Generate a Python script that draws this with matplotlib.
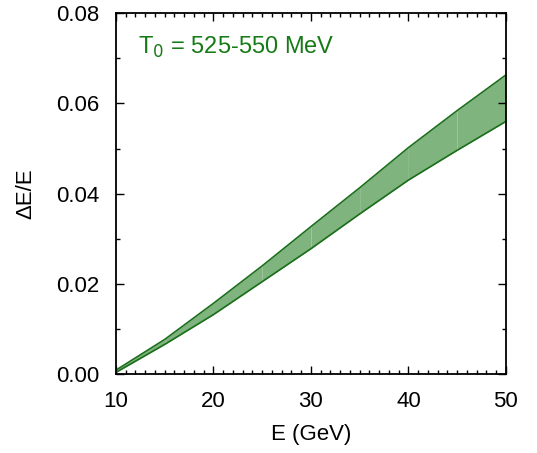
import matplotlib
matplotlib.use("Agg")
import matplotlib.pyplot as plt
from matplotlib.ticker import MultipleLocator

plt.rcParams['font.family'] = ['Liberation Sans', 'DejaVu Sans']

energy = [10, 15, 20, 25, 30, 35, 40, 45, 50]
upper = [0.0009, 0.0077, 0.0157, 0.0240, 0.0327, 0.0413, 0.0502, 0.0584, 0.0663]
lower = [0.0004, 0.0066, 0.0132, 0.0205, 0.0278, 0.0355, 0.0430, 0.0496, 0.0560]
label_text = "T$_0$ = 525-550 MeV"

fill_c = "#80b47f"
edge_c = "#1b6e1b"
text_c = "#167a16"

fig = plt.figure(figsize=(5.37, 4.53), dpi=100)
ax = fig.add_axes([0.216, 0.174, 0.726, 0.797])

for i in range(len(energy) - 1):
    ax.fill_between(energy[i:i + 2], lower[i:i + 2], upper[i:i + 2],
                    color=fill_c, linewidth=0, antialiased=True)
ax.plot(energy, upper, color=edge_c, lw=1.2)
ax.plot(energy, lower, color=edge_c, lw=1.2)

ax.set_xlim(10, 50)
ax.set_ylim(0, 0.08)
ax.xaxis.set_major_locator(MultipleLocator(10))
ax.xaxis.set_minor_locator(MultipleLocator(1))
ax.yaxis.set_major_locator(MultipleLocator(0.02))
ax.yaxis.set_minor_locator(MultipleLocator(0.01))
ax.yaxis.set_major_formatter(plt.FuncFormatter(lambda v, p: f"{v:.2f}"))
ax.tick_params(which='both', direction='in', top=True, right=True, labelsize=16, width=1.0)
ax.tick_params(which='major', length=6, pad=12)
ax.tick_params(which='minor', length=3)
for s in ax.spines.values():
    s.set_linewidth(1.3)

ax.set_xlabel("E (GeV)", fontsize=16, labelpad=9)
ax.set_ylabel("ΔE/E", fontsize=16, labelpad=14)

ax.text(12.25, 0.0711, label_text, color=text_c, fontsize=17, ha='left', va='baseline')

fig.savefig("out.png", dpi=100)
